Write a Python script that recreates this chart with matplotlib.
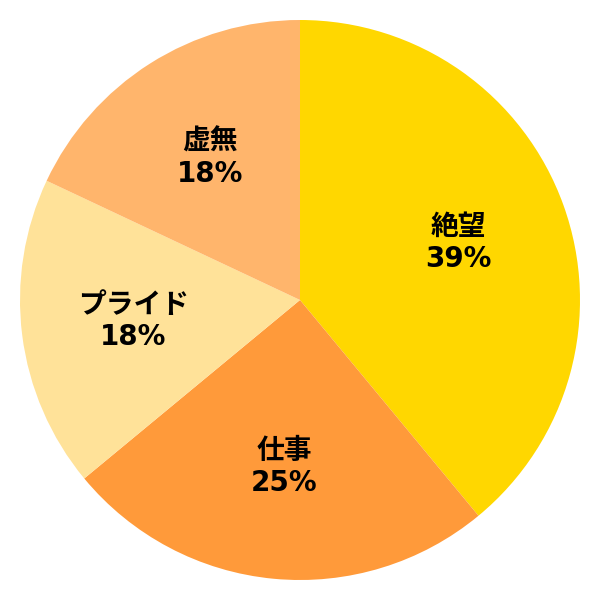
import matplotlib
matplotlib.use('Agg')
import matplotlib.pyplot as plt
import numpy as np

labels = ['絶望', '仕事', 'プライド', '虚無']
values = [39, 25, 18, 18]
colors = ['#FFD700', '#FF9A3A', '#FFE299', '#FFB56C']

fig = plt.figure(figsize=(6, 6), dpi=100)
ax = fig.add_axes([0, 0, 1, 1])

wedges, texts = ax.pie(values, colors=colors, startangle=90, counterclock=False,
                       radius=1.0, wedgeprops={'linewidth': 0})

# labels sit at about 60% of the radius
r = 0.6
for w, lab, v in zip(wedges, labels, values):
    ang = np.deg2rad((w.theta1 + w.theta2) / 2)
    x, y = r * np.cos(ang), r * np.sin(ang)
    ax.text(x, y, f'{lab}\n{v}%', ha='center', va='center', fontsize=20,
            fontweight='bold', linespacing=1.2,
            family=['DejaVu Sans', 'Noto Sans CJK JP'])

lim = 300 / 280
ax.set_xlim(-lim, lim)
ax.set_ylim(-lim, lim)
ax.set_aspect('equal')
ax.axis('off')

fig.savefig('out.png', dpi=100)
